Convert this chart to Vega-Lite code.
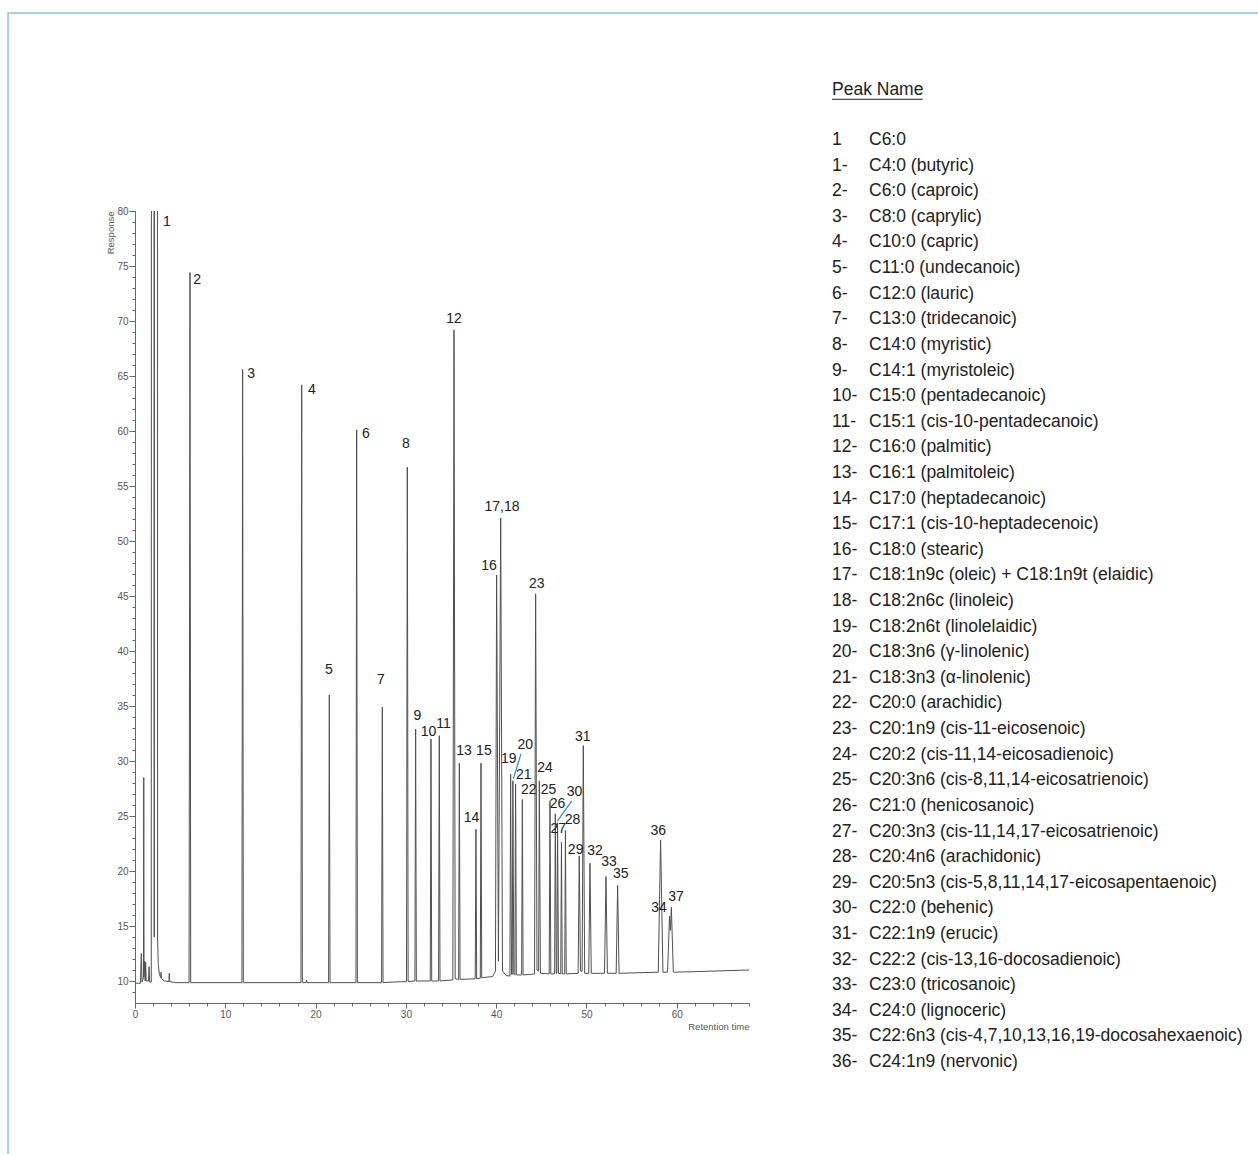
{
  "$schema": "https://vega.github.io/schema/vega-lite/v6.json",
  "width": 614,
  "height": 792,
  "autosize": {"type": "none"},
  "padding": {"left": 135, "top": 211, "right": 509, "bottom": 151},
  "background": "white",
  "config": {"view": {"stroke": null}},
  "datasets": {
    "trace": [
      {"t":0,"r":9.8},{"t":0.6,"r":9.8},{"t":0.7,"r":12.5},{"t":0.78,"r":9.9},{"t":0.94,"r":10.3},{"t":0.97,"r":28.5},{"t":1.0,"r":10.4},{"t":1.06,"r":11.8},{"t":1.12,"r":10.0},{"t":1.18,"r":11.7},{"t":1.24,"r":10.0},{"t":1.5,"r":10.0},{"t":1.56,"r":11.3},{"t":1.62,"r":9.9},{"t":1.8,"r":9.9},{"t":1.84,"r":200},{"t":2.1,"r":200},{"t":2.13,"r":14},{"t":2.16,"r":200},{"t":2.46,"r":200},{"t":2.5,"r":14},{"t":2.58,"r":11.5},{"t":2.7,"r":10.6},{"t":2.85,"r":10.3},{"t":2.88,"r":10.8},{"t":2.92,"r":10.2},{"t":3.3,"r":10.0},{"t":3.76,"r":9.95},{"t":3.8,"r":10.7},{"t":3.85,"r":9.95},{"t":4.5,"r":9.85},
      {"t":5.99,"r":9.85},{"t":6.09,"r":74.4},{"t":6.17,"r":9.85},
      {"t":11.84,"r":9.85},{"t":11.92,"r":65.6},{"t":12.0,"r":9.85},
      {"t":18.38,"r":9.85},{"t":18.46,"r":64.2},{"t":18.54,"r":9.85},
      {"t":18.95,"r":9.85},{"t":19.0,"r":10.1},{"t":19.05,"r":9.85},
      {"t":21.44,"r":9.85},{"t":21.52,"r":36.0},{"t":21.6,"r":9.85},
      {"t":24.47,"r":9.85},{"t":24.55,"r":60.1},{"t":24.63,"r":9.85},
      {"t":27.31,"r":9.85},{"t":27.39,"r":34.9},{"t":27.47,"r":9.85},
      {"t":28.5,"r":9.9},
      {"t":30.07,"r":9.95},{"t":30.16,"r":56.7},{"t":30.25,"r":9.95},
      {"t":31.0,"r":10.0},{"t":31.08,"r":32.9},{"t":31.16,"r":10.0},
      {"t":32.7,"r":10.0},{"t":32.78,"r":32.0},{"t":32.86,"r":10.0},
      {"t":33.62,"r":10.0},{"t":33.7,"r":32.3},{"t":33.78,"r":10.0},
      {"t":35.2,"r":10.1},{"t":35.33,"r":69.2},{"t":35.46,"r":10.2},
      {"t":35.84,"r":10.15},{"t":35.92,"r":29.8},{"t":36.0,"r":10.15},
      {"t":37.68,"r":10.2},{"t":37.76,"r":23.8},{"t":37.84,"r":10.2},
      {"t":38.24,"r":10.25},{"t":38.32,"r":29.8},{"t":38.4,"r":10.3},
      {"t":39.6,"r":10.4},
      {"t":39.92,"r":10.9},{"t":40.05,"r":46.9},{"t":40.25,"r":11.8},{"t":40.5,"r":52.1},{"t":40.7,"r":10.9},
      {"t":41.1,"r":10.5},
      {"t":41.52,"r":10.45},{"t":41.6,"r":28.8},{"t":41.7,"r":10.6},
      {"t":41.78,"r":10.6},{"t":41.85,"r":28.2},{"t":41.95,"r":10.6},
      {"t":42.07,"r":10.55},{"t":42.15,"r":27.9},{"t":42.24,"r":10.55},
      {"t":42.82,"r":10.55},{"t":42.9,"r":26.5},{"t":42.98,"r":10.55},
      {"t":43.8,"r":10.6},
      {"t":44.25,"r":10.65},{"t":44.37,"r":45.2},{"t":44.52,"r":11.0},
      {"t":44.7,"r":10.9},{"t":44.78,"r":28.2},{"t":44.9,"r":10.7},
      {"t":45.87,"r":10.65},{"t":45.96,"r":26.4},{"t":46.05,"r":10.65},
      {"t":46.47,"r":10.65},{"t":46.55,"r":25.2},{"t":46.66,"r":10.7},
      {"t":46.72,"r":10.7},{"t":46.8,"r":24.4},{"t":46.9,"r":10.7},
      {"t":47.15,"r":10.65},{"t":47.23,"r":22.6},{"t":47.32,"r":10.65},
      {"t":47.59,"r":10.65},{"t":47.67,"r":23.7},{"t":47.76,"r":10.65},
      {"t":49.08,"r":10.7},{"t":49.2,"r":21.35},{"t":49.34,"r":10.9},
      {"t":49.52,"r":10.9},{"t":49.65,"r":31.4},{"t":49.8,"r":10.7},
      {"t":50.25,"r":10.7},{"t":50.39,"r":20.7},{"t":50.53,"r":10.7},
      {"t":52.0,"r":10.7},{"t":52.16,"r":19.5},{"t":52.32,"r":10.7},
      {"t":53.29,"r":10.7},{"t":53.45,"r":18.7},{"t":53.61,"r":10.7},
      {"t":57.95,"r":10.8},{"t":58.21,"r":22.8},{"t":58.47,"r":10.8},
      {"t":58.98,"r":10.8},{"t":59.2,"r":15.9},{"t":59.29,"r":14.6},{"t":59.4,"r":16.7},{"t":59.62,"r":10.8},
      {"t":62,"r":10.85},{"t":68,"r":11.0}
    ],
    "labels": [
      {"t":3.54,"r":79.0,"label":"1"},
      {"t":6.87,"r":73.7,"label":"2"},
      {"t":12.85,"r":65.2,"label":"3"},
      {"t":19.6,"r":63.7,"label":"4"},
      {"t":21.48,"r":38.3,"label":"5"},
      {"t":25.58,"r":59.7,"label":"6"},
      {"t":27.24,"r":37.4,"label":"7"},
      {"t":30.01,"r":58.8,"label":"8"},
      {"t":31.28,"r":34.1,"label":"9"},
      {"t":32.5,"r":32.6,"label":"10"},
      {"t":34.16,"r":33.4,"label":"11"},
      {"t":35.33,"r":70.2,"label":"12"},
      {"t":36.43,"r":30.9,"label":"13"},
      {"t":37.26,"r":24.8,"label":"14"},
      {"t":38.64,"r":30.9,"label":"15"},
      {"t":39.2,"r":47.7,"label":"16"},
      {"t":40.64,"r":53.1,"label":"17,18"},
      {"t":41.4,"r":30.2,"label":"19"},
      {"t":43.22,"r":31.5,"label":"20"},
      {"t":43.05,"r":28.7,"label":"21"},
      {"t":43.6,"r":27.35,"label":"22"},
      {"t":44.5,"r":46.1,"label":"23"},
      {"t":45.4,"r":29.4,"label":"24"},
      {"t":45.79,"r":27.35,"label":"25"},
      {"t":46.79,"r":26.05,"label":"26"},
      {"t":46.88,"r":23.8,"label":"27"},
      {"t":48.45,"r":24.6,"label":"28"},
      {"t":48.8,"r":21.9,"label":"29"},
      {"t":48.67,"r":27.2,"label":"30"},
      {"t":49.58,"r":32.2,"label":"31"},
      {"t":50.94,"r":21.8,"label":"32"},
      {"t":52.49,"r":20.85,"label":"33"},
      {"t":58.03,"r":16.6,"label":"34"},
      {"t":53.79,"r":19.7,"label":"35"},
      {"t":57.95,"r":23.6,"label":"36"},
      {"t":59.91,"r":17.67,"label":"37"}
    ],
    "leaders": [
      {"t":42.75,"r":30.65,"t2":41.9,"r2":28.38},
      {"t":48.36,"r":26.35,"t2":46.77,"r2":24.53}
    ],
    "legend": [
      {"row":0,"num":"1","name":"C6:0"},
      {"row":1,"num":"1-","name":"C4:0 (butyric)"},
      {"row":2,"num":"2-","name":"C6:0 (caproic)"},
      {"row":3,"num":"3-","name":"C8:0 (caprylic)"},
      {"row":4,"num":"4-","name":"C10:0 (capric)"},
      {"row":5,"num":"5-","name":"C11:0 (undecanoic)"},
      {"row":6,"num":"6-","name":"C12:0 (lauric)"},
      {"row":7,"num":"7-","name":"C13:0 (tridecanoic)"},
      {"row":8,"num":"8-","name":"C14:0 (myristic)"},
      {"row":9,"num":"9-","name":"C14:1 (myristoleic)"},
      {"row":10,"num":"10-","name":"C15:0 (pentadecanoic)"},
      {"row":11,"num":"11-","name":"C15:1 (cis-10-pentadecanoic)"},
      {"row":12,"num":"12-","name":"C16:0 (palmitic)"},
      {"row":13,"num":"13-","name":"C16:1 (palmitoleic)"},
      {"row":14,"num":"14-","name":"C17:0 (heptadecanoic)"},
      {"row":15,"num":"15-","name":"C17:1 (cis-10-heptadecenoic)"},
      {"row":16,"num":"16-","name":"C18:0 (stearic)"},
      {"row":17,"num":"17-","name":"C18:1n9c (oleic) + C18:1n9t (elaidic)"},
      {"row":18,"num":"18-","name":"C18:2n6c (linoleic)"},
      {"row":19,"num":"19-","name":"C18:2n6t (linolelaidic)"},
      {"row":20,"num":"20-","name":"C18:3n6 (γ-linolenic)"},
      {"row":21,"num":"21-","name":"C18:3n3 (α-linolenic)"},
      {"row":22,"num":"22-","name":"C20:0 (arachidic)"},
      {"row":23,"num":"23-","name":"C20:1n9 (cis-11-eicosenoic)"},
      {"row":24,"num":"24-","name":"C20:2 (cis-11,14-eicosadienoic)"},
      {"row":25,"num":"25-","name":"C20:3n6 (cis-8,11,14-eicosatrienoic)"},
      {"row":26,"num":"26-","name":"C21:0 (henicosanoic)"},
      {"row":27,"num":"27-","name":"C20:3n3 (cis-11,14,17-eicosatrienoic)"},
      {"row":28,"num":"28-","name":"C20:4n6 (arachidonic)"},
      {"row":29,"num":"29-","name":"C20:5n3 (cis-5,8,11,14,17-eicosapentaenoic)"},
      {"row":30,"num":"30-","name":"C22:0 (behenic)"},
      {"row":31,"num":"31-","name":"C22:1n9 (erucic)"},
      {"row":32,"num":"32-","name":"C22:2 (cis-13,16-docosadienoic)"},
      {"row":33,"num":"33-","name":"C23:0 (tricosanoic)"},
      {"row":34,"num":"34-","name":"C24:0 (lignoceric)"},
      {"row":35,"num":"35-","name":"C22:6n3 (cis-4,7,10,13,16,19-docosahexaenoic)"},
      {"row":36,"num":"36-","name":"C24:1n9 (nervonic)"}
    ]
  },
  "layer": [
    {
      "layer": [
        {
          "data": {"name": "trace"},
          "mark": {"type": "line", "clip": true, "color": "#505050", "strokeWidth": 1, "interpolate": "linear"},
          "encoding": {
            "x": {"field": "t", "type": "quantitative", "sort": null,
              "scale": {"domain": [0, 68], "nice": false, "zero": false},
              "axis": {"values": [0, 10, 20, 30, 40, 50, 60], "orient": "bottom", "title": "Retention time", "titleAnchor": "end", "titleFontSize": 9.5, "titleFontWeight": "normal", "titleColor": "#555", "titleFont": "Liberation Sans", "titlePadding": 2, "labelFontSize": 10, "labelFont": "Liberation Sans", "labelColor": "#555", "labelPadding": 1, "tickSize": 5, "tickColor": "#666", "domainColor": "#666", "grid": false, "labelFlush": false}},
            "y": {"field": "r", "type": "quantitative",
              "scale": {"domain": [8, 80], "nice": false, "zero": false},
              "axis": {"values": [10, 15, 20, 25, 30, 35, 40, 45, 50, 55, 60, 65, 70, 75, 80], "orient": "left", "title": "Response", "titleAnchor": "end", "titleFontSize": 9.5, "titleFontWeight": "normal", "titleColor": "#555", "titleFont": "Liberation Sans", "titlePadding": 1, "labelFontSize": 10, "labelFont": "Liberation Sans", "labelColor": "#555", "labelPadding": 1, "tickSize": 6, "tickColor": "#666", "domainColor": "#666", "grid": false, "labelFlush": false}}
          }
        },
        {
          "data": {"name": "labels"},
          "mark": {"type": "text", "font": "Liberation Sans", "fontSize": 14, "color": "#222", "align": "center", "baseline": "middle"},
          "encoding": {
            "x": {"field": "t", "type": "quantitative", "scale": {"domain": [0, 68], "nice": false, "zero": false},
              "axis": {"values": [2, 4, 6, 8, 12, 14, 16, 18, 22, 24, 26, 28, 32, 34, 36, 38, 42, 44, 46, 48, 52, 54, 56, 58, 62, 64, 66, 68], "orient": "bottom", "labels": false, "domain": false, "grid": false, "tickSize": 3, "tickColor": "#666", "title": null}},
            "y": {"field": "r", "type": "quantitative", "scale": {"domain": [8, 80], "nice": false, "zero": false},
              "axis": {"values": [9, 11, 12, 13, 14, 16, 17, 18, 19, 21, 22, 23, 24, 26, 27, 28, 29, 31, 32, 33, 34, 36, 37, 38, 39, 41, 42, 43, 44, 46, 47, 48, 49, 51, 52, 53, 54, 56, 57, 58, 59, 61, 62, 63, 64, 66, 67, 68, 69, 71, 72, 73, 74, 76, 77, 78, 79], "orient": "left", "labels": false, "domain": false, "grid": false, "tickSize": 3, "tickColor": "#666", "title": null}},
            "text": {"field": "label", "type": "nominal"}
          }
        },
        {
          "data": {"name": "leaders"},
          "mark": {"type": "rule", "color": "#2a8cbf", "strokeWidth": 1.2},
          "encoding": {
            "x": {"field": "t", "type": "quantitative", "axis": null},
            "y": {"field": "r", "type": "quantitative", "axis": null},
            "x2": {"field": "t2"},
            "y2": {"field": "r2"}
          }
        }
      ],
      "resolve": {"axis": {"x": "independent", "y": "independent"}}
    },
    {
      "layer": [
        {
          "data": {"values": [{}]},
          "mark": {"type": "rect", "filled": false, "stroke": "#8dc2dd", "strokeWidth": 1.5},
          "encoding": {
            "x": {"datum": -22.27, "type": "quantitative", "scale": {"domain": [0, 1], "range": [697, 734], "nice": false, "zero": false}, "axis": null},
            "x2": {"datum": 14},
            "y": {"datum": -4.96, "type": "quantitative", "scale": {"domain": [0, 36], "range": [-71, 851], "nice": false, "zero": false}, "axis": null},
            "y2": {"datum": 42}
          }
        },
        {
          "data": {"values": [{}]},
          "mark": {"type": "text", "font": "Liberation Sans", "fontSize": 17.5, "color": "#222", "align": "left", "baseline": "middle", "text": "Peak Name"},
          "encoding": {
            "x": {"datum": 0, "type": "quantitative"},
            "y": {"datum": -1.96, "type": "quantitative"}
          }
        },
        {
          "data": {"values": [{}]},
          "mark": {"type": "rule", "color": "#222", "strokeWidth": 1},
          "encoding": {
            "x": {"datum": 0, "type": "quantitative"},
            "x2": {"datum": 2.45},
            "y": {"datum": -1.59, "type": "quantitative"}
          }
        },
        {
          "data": {"name": "legend"},
          "mark": {"type": "text", "font": "Liberation Sans", "fontSize": 17.5, "color": "#222", "align": "left", "baseline": "middle"},
          "encoding": {
            "x": {"datum": 0, "type": "quantitative"},
            "y": {"field": "row", "type": "quantitative"},
            "text": {"field": "num", "type": "nominal"}
          }
        },
        {
          "data": {"name": "legend"},
          "mark": {"type": "text", "font": "Liberation Sans", "fontSize": 17.5, "color": "#222", "align": "left", "baseline": "middle"},
          "encoding": {
            "x": {"datum": 1, "type": "quantitative"},
            "y": {"field": "row", "type": "quantitative"},
            "text": {"field": "name", "type": "nominal"}
          }
        }
      ]
    }
  ],
  "resolve": {"scale": {"x": "independent", "y": "independent"}, "axis": {"x": "independent", "y": "independent"}}
}
